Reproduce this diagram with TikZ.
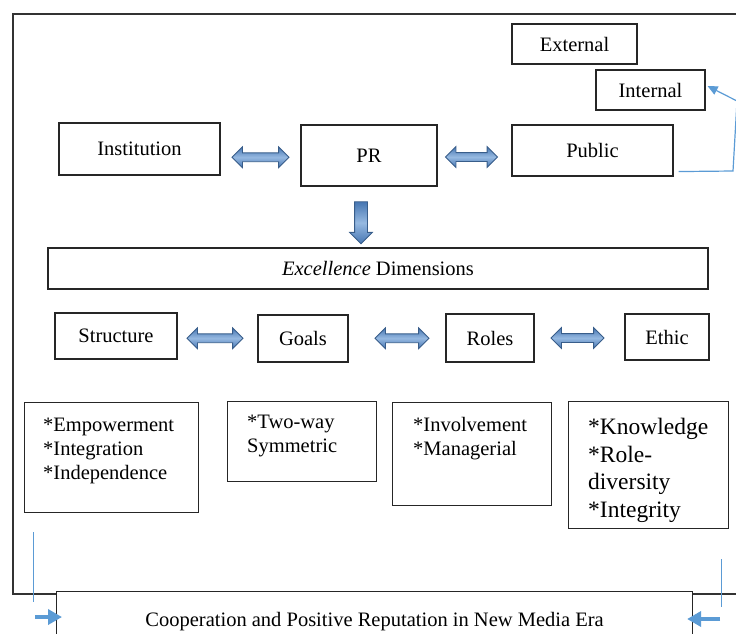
\documentclass[tikz,border=0pt]{standalone}
\usepackage{fontspec}
\setmainfont{Liberation Serif}
\usetikzlibrary{arrows.meta,shapes.arrows,positioning,calc}
\definecolor{thinblue}{RGB}{91,155,213}
\definecolor{arrowfill}{RGB}{70,118,178}
\definecolor{arrowedge}{RGB}{56,93,138}
\definecolor{arrowlight}{RGB}{150,185,225}

\begin{document}
\begin{tikzpicture}[x=1pt,y=-1pt,
	box/.style={draw=black!85,line width=1.1pt,inner sep=0pt,font=\fontsize{20.5}{24}\selectfont},
	listtext/.style={anchor=north west,inner sep=0pt,align=left,font=\fontsize{20.5}{24}\selectfont},
	dblarrow/.style={double arrow,double arrow head extend=6pt,inner xsep=0pt,inner ysep=4pt,draw=arrowedge,line width=0.8pt,top color=arrowfill,bottom color=arrowfill,middle color=arrowlight},
	downarrow/.style={single arrow,single arrow head extend=5pt,inner xsep=0pt,inner ysep=6pt,draw=arrowedge,line width=0.8pt,top color=arrowfill,bottom color=arrowfill,middle color=arrowlight,rotate=-90},
	link/.style={draw=thinblue,line width=1.2pt},
	tip/.style={thinblue,line width=4pt,-{Triangle[length=14pt,width=15pt]}}]
				\useasboundingbox (0,0) rectangle (736,633);
				\draw[black!80,line width=1.4pt] (745,14) -- (13,14) -- (13,594) -- (745,594);
				% publics
				\node[box,minimum width=125,minimum height=40] (ext) at (574.5,44) {External};
				\node[box,minimum width=109,minimum height=40] (int) at (650.5,90) {Internal};
				% top row
				\node[box,minimum width=161,minimum height=52] (inst) at (139.5,149) {Institution};
				\node[box,minimum width=136,minimum height=61] (pr) at (369,155.5) {PR};
				\node[box,minimum width=161,minimum height=51] (pub) at (592.5,150.5) {Public};
				\node[dblarrow,minimum height=57] (a1) at ($(inst.east)!0.5!(pr.west)+(0,5)$) {};
				\node[dblarrow,minimum height=52] (a2) at ($(pr.east)!0.5!(pub.west)+(-3,4)$) {};
				\node[downarrow,minimum height=42] (down) at ($(pr.south)+(-8,33)$) {};
				\coordinate (pubout) at ([shift={(5,-5)}]pub.south east);
				\draw[link,-{Triangle[length=10pt,width=9pt]}] (pubout) -- (733,171) -- (737,101) -- ([shift={(2,-4)}]int.east);
				% dimensions
				\node[box,minimum width=660,minimum height=41] (exc) at (378,268.5) {\textit{Excellence} Dimensions};
				\node[box,minimum width=122,minimum height=46] (str) at (116,336) {Structure};
				\node[box,minimum width=90,minimum height=47] (goa) at (303,338.5) {Goals};
				\node[box,minimum width=88,minimum height=48] (rol) at (490,338) {Roles};
				\node[box,minimum width=84,minimum height=46] (eth) at (667,337) {Ethic};
				\node[dblarrow,minimum height=56] (a3) at ($(str.east)!0.5!(goa.west)+(-2.5,1)$) {};
				\node[dblarrow,minimum height=54] (a4) at ($(goa.east)!0.5!(rol.west)+(5,0)$) {};
				\node[dblarrow,minimum height=53] (a5) at ($(rol.east)!0.5!(eth.west)+(-2,0.5)$) {};
				% items
				\node[box,anchor=north west,minimum width=174,minimum height=110] (emp) at (24,402) {};
				\node[box,anchor=north west,minimum width=149,minimum height=80] (two) at (227,401) {};
				\node[box,anchor=north west,minimum width=159,minimum height=103] (inv) at (392,402) {};
				\node[box,anchor=north west,minimum width=160,minimum height=127] (kno) at (568,401) {};
				\node[listtext] (emptext) at ([shift={(19,16)}]emp.north west) {*Empowerment\\*Integration\\*Independence};
				\node[listtext] (twotext) at ([shift={(20,14)}]two.north west) {*Two-way\\Symmetric};
				\node[listtext] (invtext) at ([shift={(21,15)}]inv.north west) {*Involvement\\*Managerial};
				\node[listtext,font=\fontsize{23.5}{27.6}\selectfont] (knotext) at ([shift={(20,17)}]kno.north west) {*Knowledge\\*Role-\\diversity\\*Integrity};
				% outcome
				\node[box,fill=white,anchor=north west,minimum width=636,minimum height=60] (coop) at (56,591) {Cooperation and Positive Reputation in New Media Era};
				\coordinate (lefttop) at (33.5,532);
				\coordinate (leftbot) at (33.5,602);
				\coordinate (leftin) at (35,617);
				\coordinate (righttop) at (721.5,559);
				\coordinate (rightbot) at (721.5,607);
				\coordinate (rightin) at (720,619);
				\draw[link] (lefttop) -- (leftbot);
				\draw[link] (righttop) -- (rightbot);
				\draw[tip] (leftin) -- ([shift={(6,0)}]coop.west |- leftin);
				\draw[tip] (rightin) -- ([shift={(-6,0)}]coop.east |- rightin);
			\end{tikzpicture}
\end{document}
